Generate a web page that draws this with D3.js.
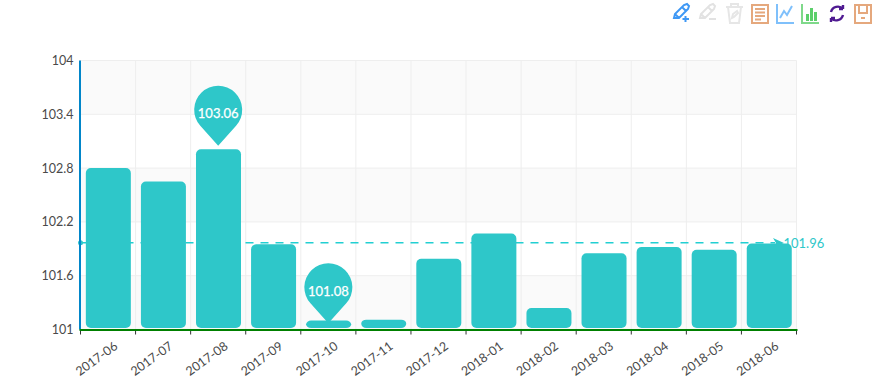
<!DOCTYPE html>
<html>
<head>
<meta charset="utf-8">
<script src="https://cdnjs.cloudflare.com/ajax/libs/d3/7.8.5/d3.min.js"></script>
<style>
  html, body { margin: 0; padding: 0; background: #fff; }
  svg { display: block; }
  text { font-family: Lato, "Open Sans", sans-serif; }
</style>
</head>
<body>
<div id="chart"></div>
<script>
var months = ["2017-06", "2017-07", "2017-08", "2017-09", "2017-10", "2017-11", "2017-12",
  "2018-01", "2018-02", "2018-03", "2018-04", "2018-05", "2018-06"];
var values = [102.8, 102.65, 103.01, 101.95, 101.1, 101.11, 101.79,
  102.07, 101.24, 101.85, 101.92, 101.89, 101.96];
var yTicks = [101, 101.6, 102.2, 102.8, 103.4, 104];
var pinMonths = ["2017-08", "2017-10"];
var pinValues = [103.06, 101.08];
var meanValue = 101.96;

var width = 876, height = 388;
var teal = "#2ec7c9";

var svg = d3.select("#chart").append("svg")
  .attr("width", width)
  .attr("height", height);

var x = d3.scaleBand().domain(months).range([80.5, 796.5]);
var y = d3.scaleLinear().domain([101, 104]).range([329.5, 60.5]);

// Alternating background bands, top band is grey
var g = svg.append("g");
d3.pairs(yTicks).forEach(function (p, i) {
  g.append("rect")
    .attr("x", x.range()[0])
    .attr("y", y(p[1]))
    .attr("width", x.range()[1] - x.range()[0])
    .attr("height", y(p[0]) - y(p[1]))
    .attr("fill", i % 2 === 0 ? "#fafafa" : "#ffffff");
});

// Grid lines
g.selectAll(".hgrid").data(yTicks).enter().append("line")
  .attr("x1", x.range()[0]).attr("x2", x.range()[1])
  .attr("y1", function (d) { return y(d); })
  .attr("y2", function (d) { return y(d); })
  .attr("stroke", "#eeeeee");
g.selectAll(".vgrid").data(months.slice(1).concat([null])).enter().append("line")
  .attr("x1", function (d) { return d ? x(d) : x.range()[1]; })
  .attr("x2", function (d) { return d ? x(d) : x.range()[1]; })
  .attr("y1", y(104)).attr("y2", y(101))
  .attr("stroke", "#eeeeee");

// Mean line
var meanY = Math.round(y(meanValue));
g.append("line")
  .attr("x1", x.range()[0]).attr("x2", 775)
  .attr("y1", meanY - 0.25).attr("y2", meanY - 0.25)
  .attr("stroke", "#22cfd2").attr("stroke-width", 1.5)
  .attr("stroke-dasharray", "8,7");
g.append("circle")
  .attr("cx", x.range()[0]).attr("cy", meanY - 0.25).attr("r", 2.5)
  .attr("fill", teal);
g.append("path")
  .attr("d", "M0,0L-11,-5L-8,0L-11,5Z")
  .attr("transform", "translate(784," + meanY + ")")
  .attr("fill", teal);
g.append("text")
  .attr("x", 783.5).attr("y", meanY)
  .attr("dy", "0.35em")
  .attr("font-size", 13)
  .attr("fill", teal)
  .text(meanValue);

// Bars
var barWidth = 45;
g.selectAll(".bar").data(values).enter().append("rect")
  .attr("class", "bar")
  .attr("x", function (d, i) { return x(months[i]) + (x.bandwidth() - barWidth) / 2 + 0.3; })
  .attr("y", function (d) { return y(d); })
  .attr("width", barWidth)
  .attr("height", function (d) { return y(101) - 1.5 - y(d); })
  .attr("rx", 5)
  .attr("fill", teal);

// Axes
var yAxis = d3.axisLeft(y).tickValues(yTicks).tickSize(0).tickPadding(7)
  .tickFormat(function (d) { return d; });
var yG = svg.append("g").attr("transform", "translate(80.5,0)").call(yAxis);
yG.select(".domain").remove();
yG.selectAll("text").attr("font-size", 12.5).attr("fill", "#4a4a4a")
  .attr("font-family", "Lato, sans-serif");
svg.append("line")
  .attr("x1", 80).attr("x2", 80)
  .attr("y1", y(104)).attr("y2", y(101))
  .attr("stroke", "#0286c9").attr("stroke-width", 2);

var xG = svg.append("g").attr("transform", "translate(0," + y(101) + ")");
xG.selectAll("line").data(months.concat([null])).enter().append("line")
  .attr("x1", function (d) { return d ? x(d) : x.range()[1]; })
  .attr("x2", function (d) { return d ? x(d) : x.range()[1]; })
  .attr("y1", 0).attr("y2", 5)
  .attr("stroke", "#333");
xG.append("line")
  .attr("x1", x.range()[0] - 1).attr("x2", x.range()[1] + 1)
  .attr("y1", 0.5).attr("y2", 0.5)
  .attr("stroke", "#008000").attr("stroke-width", 2);
xG.selectAll("text").data(months).enter().append("text")
  .attr("transform", function (d) {
    return "translate(" + (x(d) + x.bandwidth() / 2 + 8) + ",15) rotate(-36)";
  })
  .attr("text-anchor", "end")
  .attr("dy", "0.35em")
  .attr("font-size", 12.5)
  .attr("fill", "#4a4a4a")
  .text(function (d) { return d; });

// Pins, r 24 with tip about 36 under the centre
function pinPath(r, h) {
  var a = Math.acos(r / h);
  var dx = r * Math.sin(a), dy = r * Math.cos(a);
  return "M0,0L" + (-dx) + "," + (-h + dy) +
    "A" + r + "," + r + " 0 1 1 " + dx + "," + (-h + dy) + "Z";
}
pinValues.forEach(function (v, i) {
  var px = x(pinMonths[i]) + x.bandwidth() / 2;
  var pin = svg.append("g").attr("transform", "translate(" + px + "," + (y(v) + 1) + ")");
  pin.append("path").attr("d", pinPath(24, 36)).attr("fill", teal);
  pin.append("text")
    .attr("y", -32).attr("dy", "0.35em")
    .attr("text-anchor", "middle")
    .attr("font-size", 13)
    .attr("fill", "#fff")
    .attr("stroke", "#fff")
    .attr("stroke-width", 0.25)
    .text(v);
});

// Toolbox icons
var icons = [
  { x: 672, color: "#3e98f5", w: 2, d: "M2,15L3,11L12,2L15,1L17,3L16,6L7,15ZM3,11L7,15M10,4L14,8M13.5,13V19M10.5,16H17" },
  { x: 698, color: "#e2e2e2", w: 2, d: "M2,15L3,11L12,2L15,1L17,3L16,6L7,15ZM3,11L7,15M10,4L14,8M11,16H18" },
  { x: 725, color: "#e6e6e6", w: 2, d: "M1,4H18M6,4V1H13V4M3,4L5,20H14L16,4M7,15L8,11L12,8L13,10L9,14Z" },
  { x: 751, color: "#e5a87d", w: 2, d: "M1,2H17V20H1ZM4,6H14M4,9.5H14M4,13H14M4,16.5H10" },
  { x: 776, color: "#7fc0fb", w: 2, d: "M1,1V20H18M4,15L8,8L11,12L16,3" },
  { x: 801, color: "#7fd98a", w: 2, d: "M1,1V20H18" },
  { x: 828, color: "#4f1a91", w: 2.4, d: "M3,9A7,7 0 0 1 15,6M15,6V2M15,6H11M15,12A7,7 0 0 1 3,15M3,15V19M3,15H7" },
  { x: 854, color: "#e5a87d", w: 2, d: "M1,2H17V20H1ZM5,2V10H13V2M7,15H11" }
];
var toolbox = svg.append("g");
icons.forEach(function (ic) {
  toolbox.append("path")
    .attr("transform", "translate(" + ic.x + ",3)")
    .attr("d", ic.d)
    .attr("fill", "none")
    .attr("stroke", ic.color)
    .attr("stroke-width", ic.w);
});
// little bars inside the bar icon
[[5, 11, 5], [9, 5, 11], [13, 9, 7]].forEach(function (b) {
  toolbox.append("rect")
    .attr("x", 801 + b[0]).attr("y", 3 + b[1])
    .attr("width", 3).attr("height", b[2] + 2)
    .attr("fill", "#5ccf6b");
});
</script>
</body>
</html>
